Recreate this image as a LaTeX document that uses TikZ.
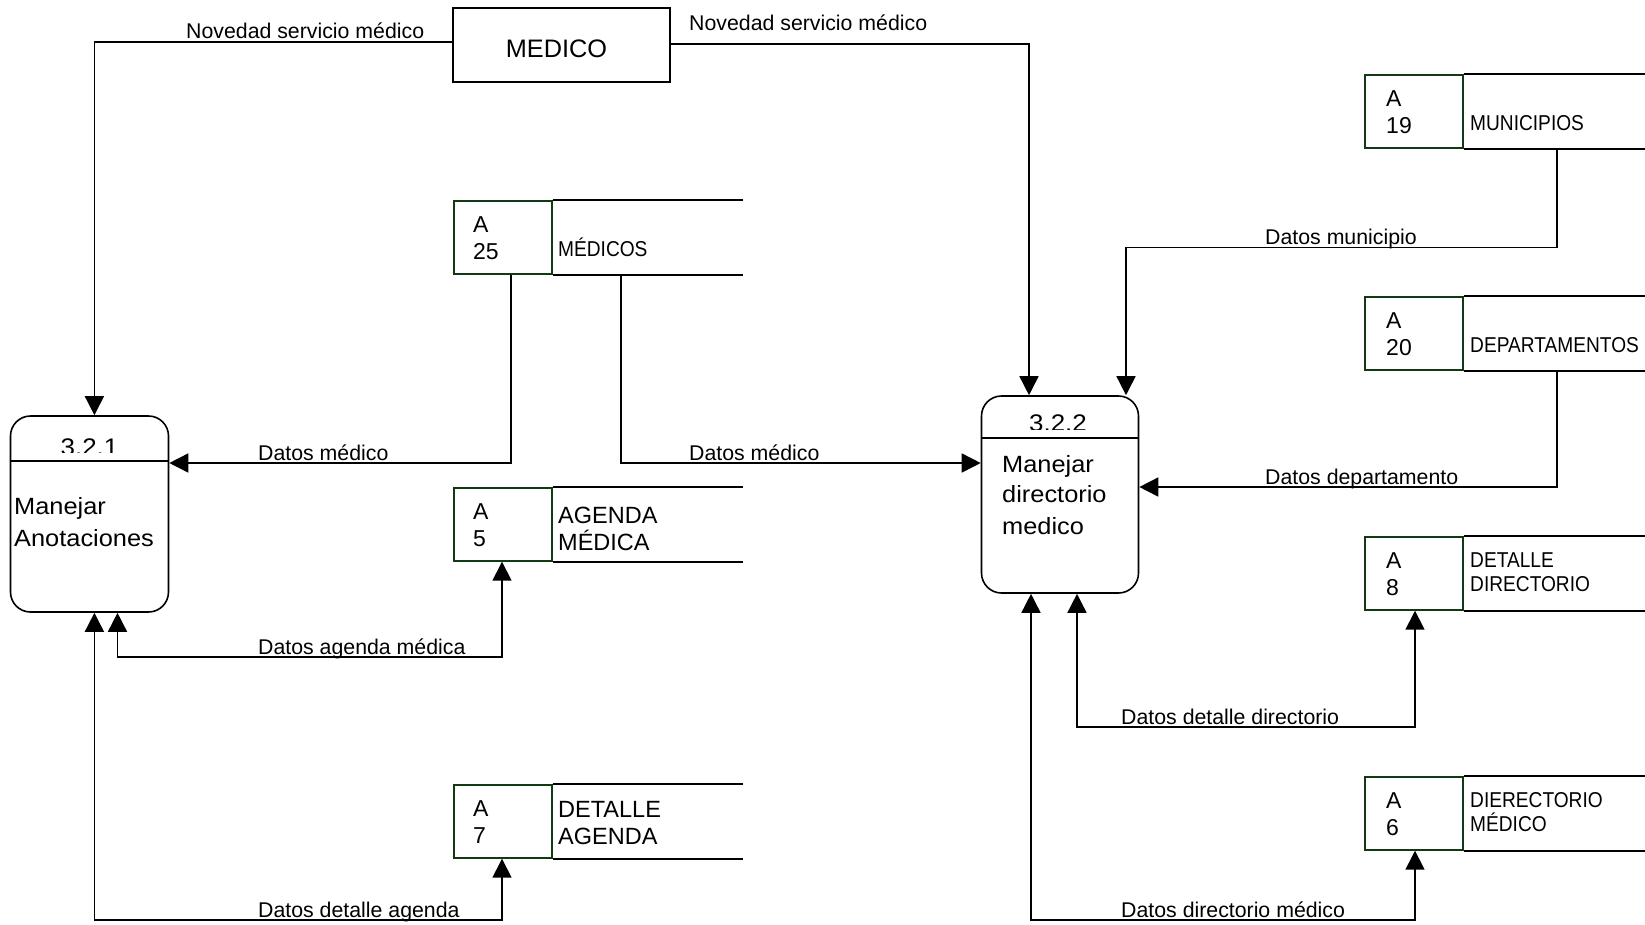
\documentclass[tikz,border=0pt]{standalone}
\usepackage{fontspec}
\setmainfont{Liberation Sans}
\newfontfamily\procface[FakeStretch=1.08]{Liberation Sans}
\newfontfamily\narrowface[FakeStretch=0.89]{Liberation Sans}
\usetikzlibrary{arrows.meta}
\definecolor{storegreen}{HTML}{123A12}

\begin{document}
\begin{tikzpicture}[x=1pt, y=-1pt,
  wire/.style={line width=1.6pt},
  flow/.style={wire, -{Triangle[length=19pt,width=19pt]}},
  twoway/.style={wire, {Triangle[length=19pt,width=19pt]}-{Triangle[length=19pt,width=19pt]}},
  entity/.style={draw, line width=1.6pt, minimum width=217pt, minimum height=74pt, inner sep=0pt, text height=25pt, text depth=0pt, font=\fontsize{25.3}{28}\selectfont},
  procbox/.style={draw, line width=1.6pt, rounded corners=20pt, inner sep=0pt, minimum width=158pt, minimum height=196pt},
  procnum/.style={anchor=base, inner sep=0pt, font=\procface\fontsize{24}{30}\selectfont},
  proctext/.style={anchor=north west, align=left, inner sep=0pt, font=\procface\fontsize{23.5}{32.2}\selectfont},
  storebox/.style={draw=storegreen, line width=1.7pt, minimum width=98pt, minimum height=73pt, inner sep=0pt, anchor=north west},
  storeid/.style={anchor=north west, align=left, inner sep=0pt, font=\fontsize{23}{26.5}\selectfont},
  storename/.style={anchor=north west, align=left, inner sep=0pt, font=\fontsize{23.5}{27}\selectfont},
  smallname/.style={align=left, inner sep=0pt, font=\narrowface\fontsize{21.5}{24}\selectfont},
  flowlabel/.style={anchor=base west, inner sep=0pt, font=\fontsize{21.3}{25}\selectfont},
]
\useasboundingbox (0,0) rectangle (1645,924);

% ---------- external entity ----------
\node[entity] (med) at (561.5,45) {MEDICO\hspace*{10pt}};

% ---------- processes ----------
\node[procbox] (p1) at (89.5,514) {};
\node[procbox, minimum width=157pt, minimum height=197pt] (p2) at (1060,494.5) {};

\coordinate (d1) at (0,461);
\coordinate (d2) at (0,438);
\draw[wire] (p1.west |- d1) -- (p1.east |- d1);
\draw[wire] (p2.west |- d2) -- (p2.east |- d2);

% process numbers, cut off just above the divider
\coordinate (c1) at (168.5,452.5);
\coordinate (c2) at (1138.5,429);
\begin{scope}
  \clip (p1.north west) rectangle (c1);
  \node[procnum] (n1) at (89.5,455) {3.2.1};
\end{scope}
\begin{scope}
  \clip (p2.north west) rectangle (c2);
  \node[procnum] (n2) at (1058,431.5) {3.2.2};
\end{scope}

\node[proctext] (t1) at (14,497.3) {Manejar\\Anotaciones};
\node[proctext] (t2) at (1002,455) {Manejar\\[-2pt]directorio\\medico};

% ---------- data stores ----------
\node[storebox] (s25) at (453,200) {};
\node[storebox] (s5)  at (453,487) {};
\node[storebox] (s7)  at (453,784) {};
\node[storebox] (s19) at (1364,74) {};
\node[storebox] (s20) at (1364,296) {};
\node[storebox] (s8)  at (1364,536) {};
\node[storebox] (s6)  at (1364,776) {};

\foreach \s in {s25,s5,s7,s19,s20,s8,s6}
  \draw[wire] (\s.north east) -- +(190,0) (\s.south east) -- +(190,0);

\node[storeid] (s25id) at (473,216.5) {A\\25};
\node[storeid] (s5id)  at (473,503.5) {A\\5};
\node[storeid] (s7id)  at (473,800.5) {A\\7};
\node[storeid] (s19id) at (1386,90.5) {A\\19};
\node[storeid] (s20id) at (1386,312.5) {A\\20};
\node[storeid] (s8id)  at (1386,552.5) {A\\8};
\node[storeid] (s6id)  at (1386,792.5) {A\\6};

\node[smallname, anchor=base west] (s25nm) at (558,256.7) {MÉDICOS};
\node[storename] (s5nm) at (558,506.5) {AGENDA\\MÉDICA};
\node[storename] (s7nm) at (558,801.5) {DETALLE\\AGENDA};
\node[smallname, anchor=base west] (s19nm) at (1470,130) {MUNICIPIOS};
\node[smallname, anchor=base west] (s20nm) at (1470,352) {DEPARTAMENTOS};
\node[smallname, anchor=north west] (s8nm) at (1470,552.3) {DETALLE\\DIRECTORIO};
\node[smallname, anchor=north west] (s6nm) at (1470,792.3) {DIERECTORIO\\MÉDICO};

% ---------- bend points ----------
\coordinate (b1)  at (94.4,42);
\coordinate (b2)  at (1029,44);
\coordinate (b3)  at (511,463);
\coordinate (b4)  at (621,463);
\coordinate (b5a) at (117.5,657);
\coordinate (b5b) at (502,657);
\coordinate (b6a) at (94.4,920);
\coordinate (b6b) at (502,920);
\coordinate (b7a) at (1557,247.6);
\coordinate (b7b) at (1126,247.6);
\coordinate (b8)  at (1557,487);
\coordinate (b9a) at (1077,727);
\coordinate (b9b) at (1415,727);
\coordinate (b10a) at (1031,920);
\coordinate (b10b) at (1415,920);

% ---------- data flows ----------
\draw[flow] (med.west |- b1) -- (b1) -- (p1.north -| b1);
\draw[flow] (med.east |- b2) -- (b2) -- (p2.north -| b2);
\draw[flow] (s25.south -| b3) -- (b3) -- (p1.east |- b3);
\draw[flow] (s25.south -| b4) -- (b4) -- (p2.west |- b4);
\draw[twoway] (p1.south -| b5a) -- (b5a) -- (b5b) -- (s5.south -| b5b);
\draw[twoway] (p1.south -| b6a) -- (b6a) -- (b6b) -- (s7.south -| b6b);
\draw[flow] (s19.south -| b7a) -- (b7a) -- (b7b) -- (p2.north -| b7b);
\draw[flow] (s20.south -| b8) -- (b8) -- (p2.east |- b8);
\draw[twoway] (p2.south -| b9a) -- (b9a) -- (b9b) -- (s8.south -| b9b);
\draw[twoway] (p2.south -| b10a) -- (b10a) -- (b10b) -- (s6.south -| b10b);

% ---------- flow labels ----------
\node[flowlabel] (l1)  at (186,38.5) {Novedad servicio médico};
\node[flowlabel] (l2)  at (689,30) {Novedad servicio médico};
\node[flowlabel] (l3)  at (258,460) {Datos médico};
\node[flowlabel] (l4)  at (689,460) {Datos médico};
\node[flowlabel] (l5)  at (258,654) {Datos agenda médica};
\node[flowlabel] (l6)  at (258,917) {Datos detalle agenda};
\node[flowlabel] (l7)  at (1265,244.6) {Datos municipio};
\node[flowlabel] (l8)  at (1265,484) {Datos departamento};
\node[flowlabel] (l9)  at (1121,724) {Datos detalle directorio};
\node[flowlabel] (l10) at (1121,917) {Datos directorio médico};
\end{tikzpicture}
\end{document}
